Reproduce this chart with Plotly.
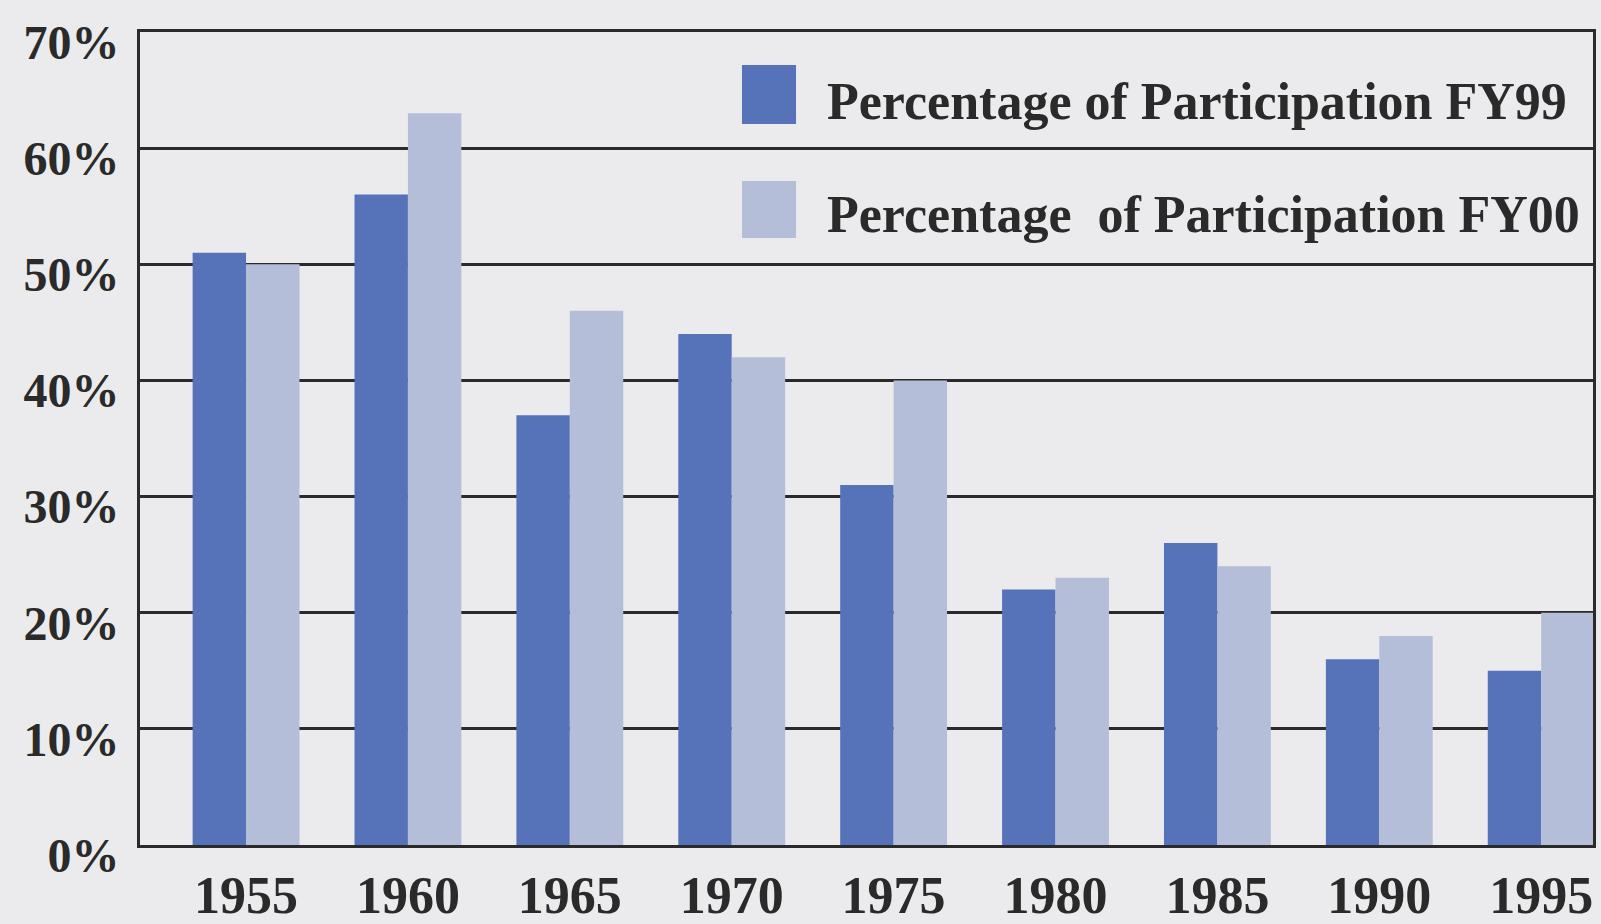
import plotly.graph_objects as go

years = ["1955", "1960", "1965", "1970", "1975", "1980", "1985", "1990", "1995"]
fy99 = [51, 56, 37, 44, 31, 22, 26, 16, 15]
fy00 = [50, 63, 46, 42, 40, 23, 24, 18, 20]
series_names = ["Percentage of Participation FY99", "Percentage  of Participation FY00"]
series_colors = ["#5672b9", "#b4bed8"]
y_ticks = [0, 10, 20, 30, 40, 50, 60, 70]

FONT = "Liberation Serif"
INK = "#2a2a2a"
BG = "#ebebed"

fig = go.Figure()
for name, vals, col in zip(series_names, [fy99, fy00], series_colors):
    fig.add_trace(go.Bar(x=years, y=vals, name=name, marker=dict(color=col, line=dict(width=0)),
                         showlegend=False))

# manual large legend
leg_y = [(0.8868, 0.9594, 0.914), (0.7466, 0.8167, 0.776)]
for (y0, y1, yt), name, col in zip(leg_y, series_names, series_colors):
    fig.add_shape(type="rect", xref="paper", yref="paper", x0=0.4143, x1=0.4515, y0=y0, y1=y1,
                  fillcolor=col, line=dict(width=0))
    fig.add_annotation(xref="paper", yref="paper", x=0.4714, y=yt, xanchor="left", yanchor="middle",
                       text=name.replace("  ", "\u00a0 "), showarrow=False,
                       font=dict(family=FONT, size=52, color=INK, weight="bold"))

fig.update_layout(
    width=1601, height=924,
    margin=dict(l=140, r=8, t=32, b=79),
    paper_bgcolor=BG, plot_bgcolor=BG,
    barmode="group", bargap=0.34, bargroupgap=0,
    font=dict(family=FONT, color=INK),
)
fig.update_xaxes(
    type="category", range=[-0.655, 8.32], automargin=False,
    showline=True, linecolor=INK, linewidth=3, mirror=True,
    showgrid=False, ticks="",
    tickfont=dict(family=FONT, size=52, color=INK, weight="bold"),
    ticklabelstandoff=3,
)
fig.update_yaxes(
    range=[0, 70], tickvals=y_ticks, ticktext=[f"{v}%" for v in y_ticks], automargin=False,
    showline=True, linecolor=INK, linewidth=3, mirror=True,
    showgrid=True, gridcolor=INK, gridwidth=3, zeroline=False, ticks="",
    tickfont=dict(family=FONT, size=48, color=INK, weight="bold"),
    ticklabelstandoff=8, ticklabelshift=10,
)

fig.write_html(
    "out.html",
    config={"displayModeBar": False},
    post_script="document.body.style.margin='0';document.body.style.background='#ebebed';"
                "document.body.style.overflow='hidden';",
)
